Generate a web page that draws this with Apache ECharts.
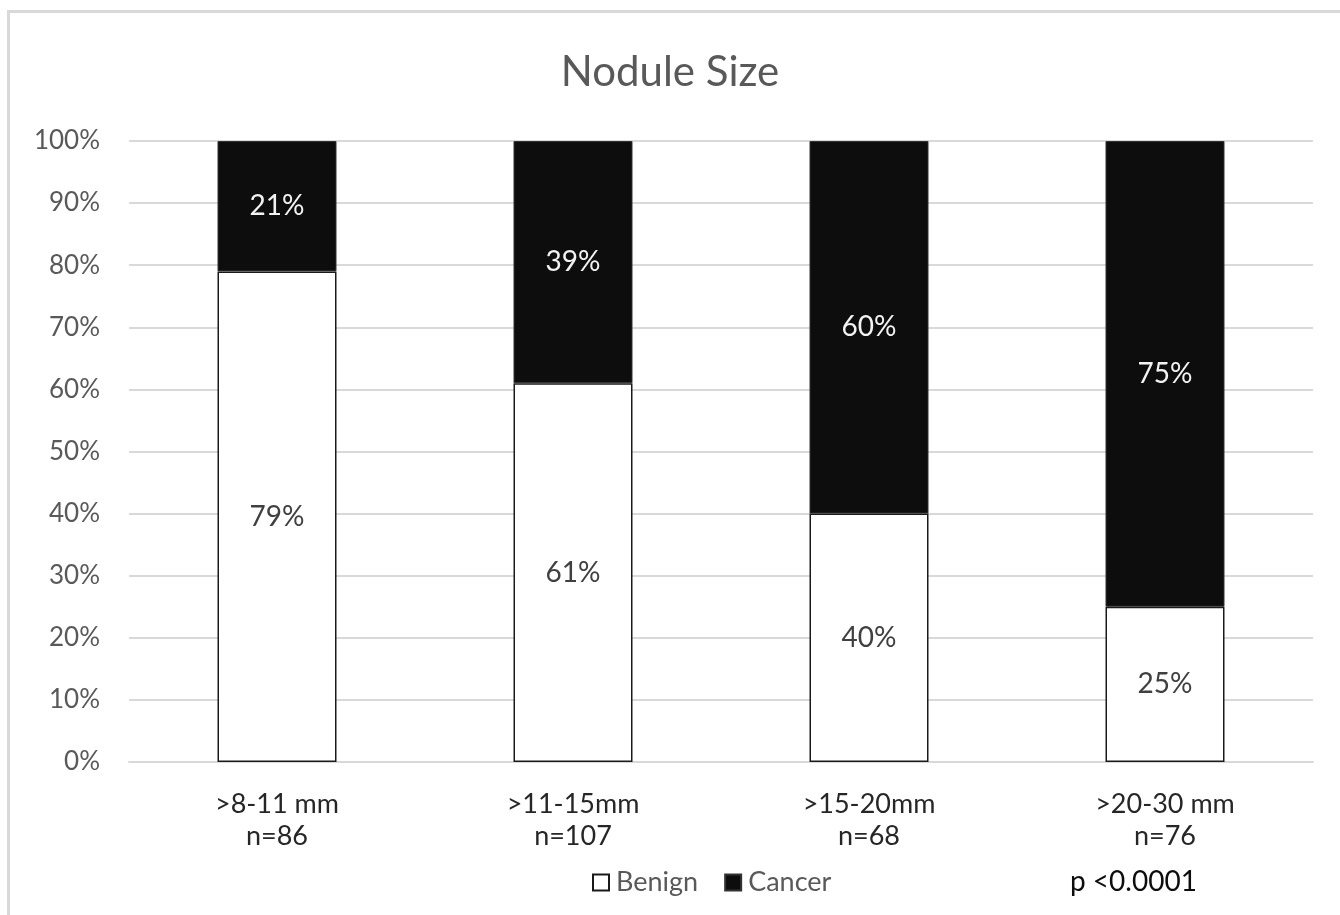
<!DOCTYPE html>
<html>
<head>
<meta charset="utf-8">
<script src="https://cdn.jsdelivr.net/npm/echarts@6/dist/echarts.min.js"></script>
<style>
  html, body { margin: 0; padding: 0; background: #fff; }
  #chart { width: 1340px; height: 915px; }
</style>
</head>
<body>
<div id="chart"></div>
<script>
// Nodule size categories and outcome shares (%)
const categories = ['>8-11 mm\nn=86', '>11-15mm\nn=107', '>15-20mm\nn=68', '>20-30 mm\nn=76'];
const benign = [79, 61, 40, 25];
const cancer = [21, 39, 60, 75];
const yTicks = [0, 10, 20, 30, 40, 50, 60, 70, 80, 90, 100];
const pValueText = 'p <0.0001';

const FONT = 'Lato, "Open Sans", sans-serif';
const chart = echarts.init(document.getElementById('chart'));

chart.setOption({
  backgroundColor: '#fff',
  animation: false,
  title: {
    text: 'Nodule Size',
    left: 'center',
    top: 46,
    textStyle: { fontFamily: FONT, fontSize: 42, fontWeight: 'normal', color: '#595959' }
  },
  grid: { left: 129, right: 27, top: 141, bottom: 153, containLabel: false },
  legend: {
    data: ['Benign', 'Cancer'],
    left: 587,
    top: 864,
    itemWidth: 16,
    itemHeight: 16,
    itemGap: 26,
    icon: 'rect',
    textStyle: { fontFamily: FONT, fontSize: 27, color: '#595959', padding: [0, 0, 0, 2] }
  },
  xAxis: {
    type: 'category',
    data: categories,
    axisLine: { show: true, lineStyle: { color: '#d9d9d9', width: 2 } },
    axisTick: { show: false },
    axisLabel: {
      fontFamily: FONT, fontSize: 27, color: '#262626', lineHeight: 32, margin: 26
    }
  },
  yAxis: {
    type: 'value',
    min: 0,
    max: 100,
    interval: 10,
    axisLine: { show: false },
    axisTick: { show: false },
    splitLine: { lineStyle: { color: '#d9d9d9', width: 2 } },
    axisLabel: {
      fontFamily: FONT, fontSize: 26, color: '#595959', margin: 29,
      formatter: v => (yTicks.includes(v) ? v + '%' : '')
    }
  },
  series: [
    {
      name: 'Benign',
      type: 'bar',
      stack: 'share',
      data: benign,
      barWidth: 119,
      itemStyle: { color: '#ffffff', borderColor: '#1a1a1a', borderWidth: 1.5 },
      label: {
        show: true, position: 'inside', formatter: '{c}%',
        fontFamily: FONT, fontSize: 28, color: '#404040'
      }
    },
    {
      name: 'Cancer',
      type: 'bar',
      stack: 'share',
      data: cancer,
      barWidth: 119,
      itemStyle: { color: '#0d0d0d', borderColor: '#333', borderWidth: 1 },
      label: {
        show: true, position: 'inside', formatter: '{c}%',
        fontFamily: FONT, fontSize: 28, color: '#f2f2f2'
      }
    }
  ],
  graphic: [
    {
      type: 'rect',
      shape: { x: 8.5, y: 11.5, width: 1400, height: 1000 },
      style: { fill: 'none', stroke: '#d9d9d9', lineWidth: 3 },
      silent: true
    },
    {
      type: 'text',
      left: 1070,
      top: 868,
      style: { text: pValueText, fontFamily: FONT, fontSize: 28, fill: '#0d0d0d' }
    }
  ]
});
</script>
</body>
</html>
